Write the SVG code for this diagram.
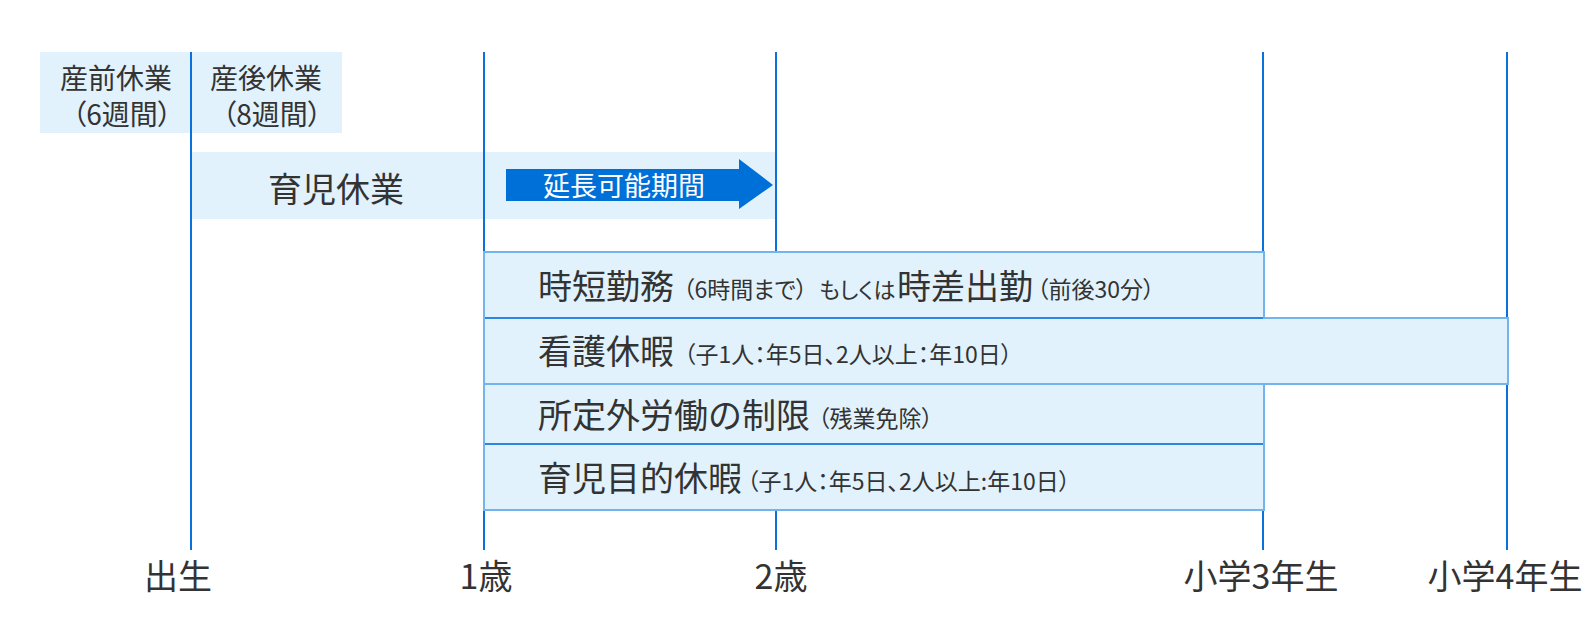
<svg xmlns="http://www.w3.org/2000/svg" width="1596" height="634" viewBox="0 0 1596 634">
  <style>
    text { font-family: "Noto Sans CJK JP", "Noto Sans", sans-serif; fill: #333333; }
    .box { fill: #e1f2fd; stroke: none; }
    .row { fill: #e1f2fd; stroke: #72b5ee; stroke-width: 2; }
    .div { stroke: #2a86e0; stroke-width: 2; }
    .vline { stroke: #0a70dc; stroke-width: 2; fill: none; }
    .top { font-size: 28px; font-feature-settings: "palt"; }
    .big { font-size: 34px; }
    .sm { font-size: 23px; font-feature-settings: "palt"; }
    .kana { font-size: 22px; font-feature-settings: "palt"; }
    .axis { font-size: 34px; text-anchor: middle; }
    .mid { text-anchor: middle; }
  </style>
  <rect width="1596" height="634" fill="#ffffff"/>

  <g id="node-sanzen">
    <rect class="box" x="40" y="52" width="151" height="81"/>
    <text class="top mid" x="116" y="89">産前休業</text>
    <text class="top mid" x="122" y="125">（6週間）</text>
  </g>
  <g id="node-sango">
    <rect class="box" x="191" y="52" width="151" height="81"/>
    <text class="top mid" x="266" y="89">産後休業</text>
    <text class="top mid" x="272" y="125">（8週間）</text>
  </g>
  <g id="node-ikuji">
    <rect class="box" x="191" y="152" width="585" height="67"/>
    <text class="big mid" x="336" y="202">育児休業</text>
  </g>

  <g id="connectors">
    <line class="vline" x1="191" y1="52" x2="191" y2="550"/>
    <line class="vline" x1="484" y1="52" x2="484" y2="550"/>
    <line class="vline" x1="776" y1="52" x2="776" y2="550"/>
    <line class="vline" x1="1263" y1="52" x2="1263" y2="550"/>
    <line class="vline" x1="1507" y1="52" x2="1507" y2="550"/>
  </g>

  <g id="node-encho">
    <polygon points="506,169 739,169 739,159 773,185 739,209 739,201 506,201" fill="#0070d9"/>
    <text x="624" y="196" class="mid" style="font-size:27px; fill:#ffffff">延長可能期間</text>
  </g>

  <g id="node-jitan">
    <rect class="row" x="484" y="252" width="780" height="66"/>
    <text class="big" x="538" y="299">時短勤務</text>
    <text class="sm" x="683" y="298">（6時間まで）</text>
    <text class="kana" x="819" y="298">もしくは</text>
    <text class="big" x="897" y="299">時差出勤</text>
    <text class="sm" x="1037" y="298">（前後30分）</text>
  </g>
  <g id="node-kango">
    <rect class="row" x="484" y="318" width="1024" height="66"/>
    <text class="big" x="538" y="364">看護休暇</text>
    <text class="sm" x="684" y="363">（子1人：年5日、2人以上：年10日）</text>
  </g>
  <g id="node-shoteigai">
    <rect class="row" x="484" y="384" width="780" height="60"/>
    <text class="big" x="538" y="428">所定外労働の制限</text>
    <text class="sm" x="818" y="427">（残業免除）</text>
  </g>
  <g id="node-ikujimokuteki">
    <rect class="row" x="484" y="444" width="780" height="66"/>
    <text class="big" x="538" y="491">育児目的休暇</text>
    <text class="sm" x="747" y="490">（子1人：年5日、2人以上:年10日）</text>
  </g>
  <g id="dividers">
    <line class="div" x1="485" y1="318" x2="1263" y2="318"/>
    <line class="div" x1="485" y1="444" x2="1263" y2="444"/>
  </g>

  <g id="axis-labels">
    <text class="axis" x="178" y="589">出生</text>
    <text class="axis" x="486" y="589">1歳</text>
    <text class="axis" x="781" y="589">2歳</text>
    <text class="axis" x="1261" y="589">小学3年生</text>
    <text class="axis" x="1505" y="589">小学4年生</text>
  </g>
</svg>
